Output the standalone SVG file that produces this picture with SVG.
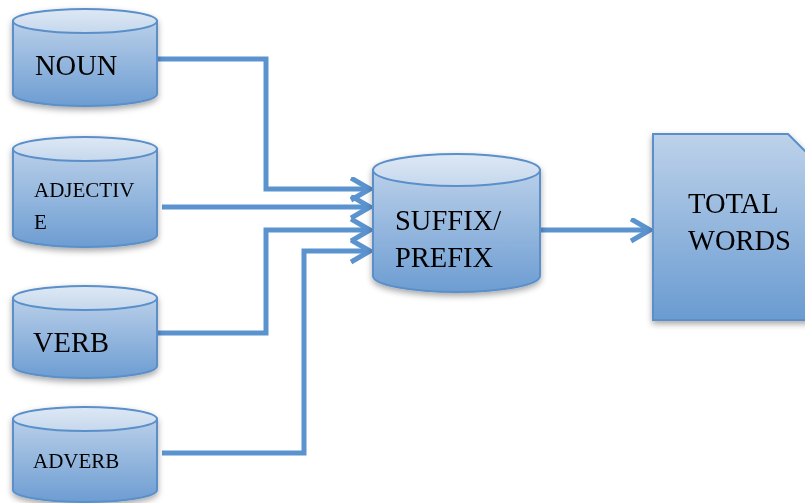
<svg xmlns="http://www.w3.org/2000/svg" width="805" height="503" viewBox="0 0 805 503">
  <defs>
    <linearGradient id="bodyFill" x1="0" y1="0" x2="0" y2="1">
      <stop offset="0" stop-color="#b9cfe9"/>
      <stop offset="1" stop-color="#6d9dd2"/>
    </linearGradient>
    <linearGradient id="capFill" x1="0" y1="0" x2="0" y2="1">
      <stop offset="0" stop-color="#dde8f4"/>
      <stop offset="1" stop-color="#c6d8ed"/>
    </linearGradient>
    <linearGradient id="docFill" x1="0" y1="0" x2="0" y2="1">
      <stop offset="0" stop-color="#bdd2ea"/>
      <stop offset="1" stop-color="#6a9bd1"/>
    </linearGradient>
    <filter id="shadow" x="-20%" y="-20%" width="140%" height="150%">
      <feDropShadow dx="0" dy="3" stdDeviation="3" flood-color="#000" flood-opacity="0.35"/>
    </filter>
    <marker id="arrow" markerUnits="userSpaceOnUse" markerWidth="30" markerHeight="30" refX="20" refY="12" orient="auto">
      <path d="M1,1 L20,12 L1,23" fill="none" stroke="#5b93cf" stroke-width="5"/>
    </marker>
  </defs>
  <style>
    .body { fill: url(#bodyFill); stroke: #5a8fc9; stroke-width: 2; }
    .cap { fill: url(#capFill); stroke: #5a8fc9; stroke-width: 2; }
    .doc { fill: url(#docFill); stroke: #5a8fc9; stroke-width: 2; }
    .label { font-family: "Liberation Serif", "Times New Roman", serif; fill: #000; }
    .big { font-size: 28.5px; }
    .small { font-size: 21px; }
    .link { fill: none; stroke: #5b93cf; stroke-width: 5; stroke-linejoin: miter; }
  </style>

  <!-- connectors -->
  <g id="connectors">
    <path class="link" d="M157,59 H266 V189 H370" marker-end="url(#arrow)"/>
    <path class="link" d="M162,207 H370" marker-end="url(#arrow)"/>
    <path class="link" d="M157,333 H266 V230 H370" marker-end="url(#arrow)"/>
    <path class="link" d="M162,453 H304 V251 H370" marker-end="url(#arrow)"/>
    <path class="link" d="M540,230 H650" marker-end="url(#arrow)"/>
  </g>

  <!-- source tables -->
  <g id="noun" filter="url(#shadow)">
    <path class="body" d="M13,21 V94 A72,12 0 0 0 157,94 V21 Z"/>
    <ellipse class="cap" cx="85" cy="21" rx="72" ry="12"/>
    <text class="label big" x="35" y="75">NOUN</text>
  </g>

  <g id="adjective" filter="url(#shadow)">
    <path class="body" d="M13,149 V235 A72,12 0 0 0 157,235 V149 Z"/>
    <ellipse class="cap" cx="85" cy="149" rx="72" ry="12"/>
    <text class="label small" x="34" y="197">ADJECTIV</text>
    <text class="label small" x="34" y="229">E</text>
  </g>

  <g id="verb" filter="url(#shadow)">
    <path class="body" d="M13,298 V366 A72,12 0 0 0 157,366 V298 Z"/>
    <ellipse class="cap" cx="85" cy="298" rx="72" ry="12"/>
    <text class="label big" x="33" y="352">VERB</text>
  </g>

  <g id="adverb" filter="url(#shadow)">
    <path class="body" d="M13,419 V490 A72,12 0 0 0 157,490 V419 Z"/>
    <ellipse class="cap" cx="85" cy="419" rx="72" ry="12"/>
    <text class="label small" x="33" y="468">ADVERB</text>
  </g>

  <!-- affix table -->
  <g id="suffix-prefix" filter="url(#shadow)">
    <path class="body" d="M373,170 V276 A83.5,16 0 0 0 540,276 V170 Z"/>
    <ellipse class="cap" cx="456.5" cy="170" rx="83.5" ry="16"/>
    <text class="label big" x="395" y="230">SUFFIX/</text>
    <text class="label big" x="395" y="267">PREFIX</text>
  </g>

  <!-- result document -->
  <g id="total-words" filter="url(#shadow)">
    <path class="doc" d="M653,134 H788 L812,158 V320 H653 Z"/>
    <text class="label big" x="688" y="213">TOTAL</text>
    <text class="label big" x="688" y="250">WORDS</text>
  </g>
</svg>
